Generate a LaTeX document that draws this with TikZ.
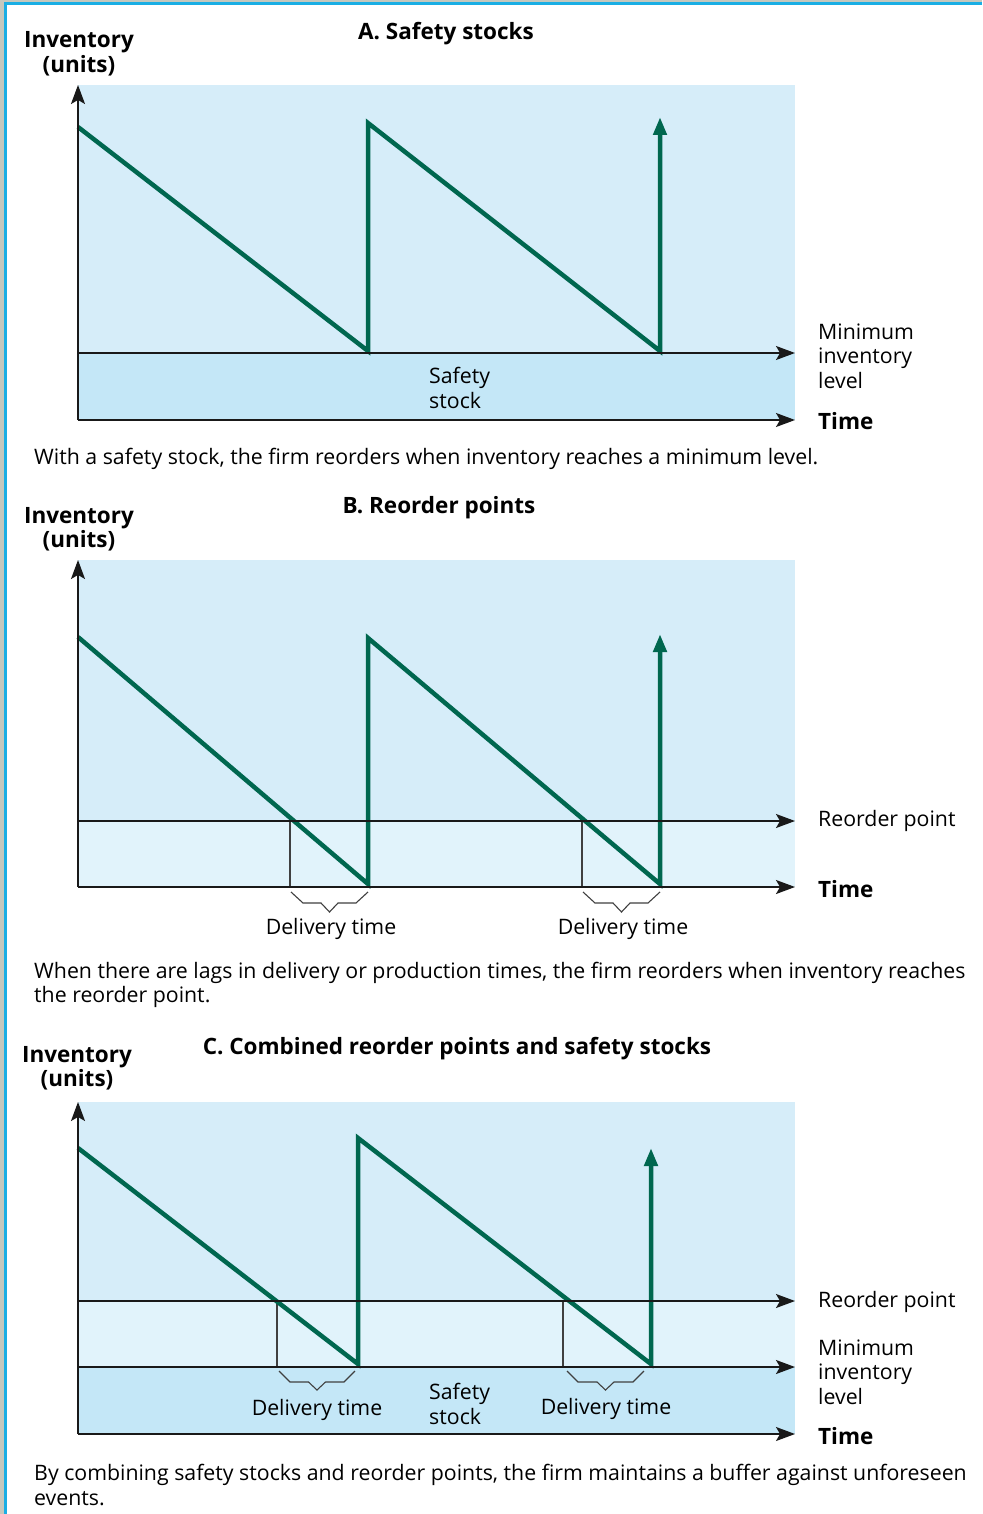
\documentclass[tikz,border=0pt]{standalone}
\usepackage{fontspec}
\setmainfont{Open Sans}
\usetikzlibrary{arrows.meta}
\definecolor{plotblue}{HTML}{D6EDF9}
\definecolor{safeblue}{HTML}{C4E7F7}
\definecolor{lagblue}{HTML}{E1F3FB}
\definecolor{saw}{HTML}{00674F}
\definecolor{edge}{HTML}{1AAEE4}
\definecolor{rim}{HTML}{C5C8BE}

\begin{document}
\begin{tikzpicture}[x=1pt,y=-1pt,
  txt/.style={font=\fontsize{21.3}{24.5}\selectfont, inner sep=0pt, align=left},
  bold/.style={font=\fontsize{22.5}{24.5}\selectfont\bfseries, inner sep=0pt, align=center},
  axis/.style={line width=1.4pt, black!90, -{Stealth[length=19pt 0,width=14pt 0,inset=4pt]}},
  stock/.style={saw, line width=4.5pt, miter limit=30, -{Triangle[length=18pt 0,width=13pt 0]}},
  lag/.style={line width=1.1pt, black!75}
]
\useasboundingbox (0,0) rectangle (982,1514);
\fill[white] (0,0) rectangle (982,1514);
\fill[rim] (0,0) rectangle (4,1514);
\fill[rim] (4,0) rectangle (982,2);
\fill[edge] (4,2) rectangle (982,5);
\fill[edge] (4,2) rectangle (7,1514);

% A. Safety stocks
\node[bold] (titleA) at (446,34) {A. Safety stocks};
\node[bold] (unitsA) at (79,54) {Inventory\\(units)};
\fill[plotblue] (78,85) rectangle (795,353);
\fill[safeblue] (78,353) rectangle (795,420);
\coordinate (oA) at (78,420);
\draw[stock] (78,127) -- (368,351) -- (368,123) -- (660,351) -- (660,117);
\draw[axis] (oA) -- (78,85);
\draw[axis] (oA) -- (795,420);
\draw[axis] (78,353) -- (795,353);
\node[txt, anchor=west] (minA) at (818,356) {Minimum\\inventory\\level};
\node[bold, anchor=west] (timeA) at (818,421) {Time};
\node[txt, anchor=west] (safeA) at (429,388) {Safety\\stock};
\node[txt, anchor=west] (capA) at (34,459) {With a safety stock, the firm reorders when inventory reaches a minimum level.};

% B. Reorder points
\node[bold] (titleB) at (439,508) {B. Reorder points};
\node[bold] (unitsB) at (79,529) {Inventory\\(units)};
\fill[plotblue] (78,560) rectangle (795,821);
\fill[lagblue] (78,821) rectangle (795,887);
\coordinate (oB) at (78,887);
\draw[lag] (290,821) -- (290,887);
\draw[lag] (582,821) -- (582,887);
\draw[stock] (78,637) -- (368,884) -- (368,638) -- (660,884) -- (660,634);
\draw[axis] (oB) -- (78,560);
\draw[axis] (oB) -- (795,887);
\draw[axis] (78,821) -- (795,821);
\draw[lag] (291,892) -- ++(12,11) -- ++(18,0) -- ++(8.5,9) -- ++(8.5,-9) -- ++(18,0) -- ++(12,-11);
\draw[lag] (583,892) -- ++(12,11) -- ++(18,0) -- ++(8.5,9) -- ++(8.5,-9) -- ++(18,0) -- ++(12,-11);
\node[txt] (lagB1) at (331,929) {Delivery time};
\node[txt] (lagB2) at (623,929) {Delivery time};
\node[txt, anchor=west] (reorderB) at (818,821) {Reorder point};
\node[bold, anchor=west] (timeB) at (818,889) {Time};
\node[txt, anchor=west] (capB) at (34,985) {When there are lags in delivery or production times, the firm reorders when inventory reaches\\the reorder point.};

% C. Combined reorder points and safety stocks
\node[bold] (titleC) at (457,1049) {C. Combined reorder points and safety stocks};
\node[bold] (unitsC) at (77,1068) {Inventory\\(units)};
\fill[plotblue] (78,1102) rectangle (795,1301);
\fill[lagblue] (78,1301) rectangle (795,1367);
\fill[safeblue] (78,1367) rectangle (795,1434);
\coordinate (oC) at (78,1434);
\draw[lag] (277,1301) -- (277,1367);
\draw[lag] (563,1301) -- (563,1367);
\draw[stock] (78,1148) -- (358,1364) -- (358,1138) -- (651,1364) -- (651,1148);
\draw[axis] (oC) -- (78,1102);
\draw[axis] (oC) -- (795,1434);
\draw[axis] (78,1301) -- (795,1301);
\draw[axis] (78,1367) -- (795,1367);
\draw[lag] (279,1371) -- ++(11,11) -- ++(18.5,0) -- ++(8.5,8) -- ++(8.5,-8) -- ++(18.5,0) -- ++(11,-11);
\draw[lag] (567,1371) -- ++(11,11) -- ++(19,0) -- ++(8.5,8) -- ++(8.5,-8) -- ++(19,0) -- ++(11,-11);
\node[txt] (lagC1) at (317,1410) {Delivery time};
\node[txt] (lagC2) at (606,1409) {Delivery time};
\node[txt, anchor=west] (safeC) at (429,1404) {Safety\\stock};
\node[txt, anchor=west] (reorderC) at (818,1302) {Reorder point};
\node[txt, anchor=west] (minC) at (818,1372) {Minimum\\inventory\\level};
\node[bold, anchor=west] (timeC) at (818,1436) {Time};
\node[txt, anchor=west] (capC) at (34,1485) {By combining safety stocks and reorder points, the firm maintains a buffer against unforeseen\\events.};
\end{tikzpicture}
\end{document}
